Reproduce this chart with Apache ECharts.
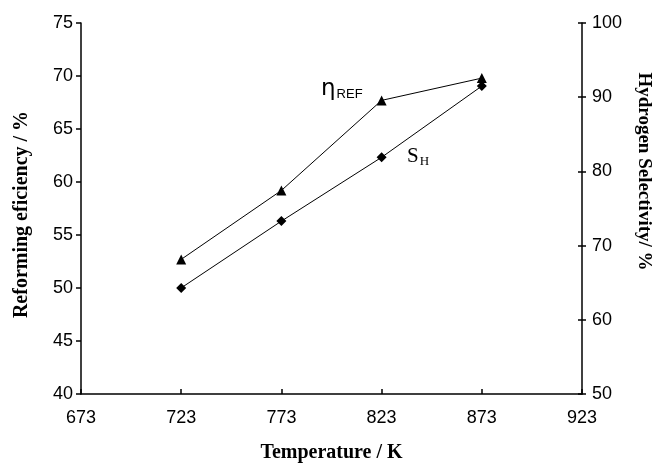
<!DOCTYPE html>
<html>
<head>
<meta charset="utf-8">
<script src="https://cdn.jsdelivr.net/npm/echarts@6/dist/echarts.min.js"></script>
<style>
html,body{margin:0;padding:0;background:#fff;}
#main{width:654px;height:464px;}
</style>
</head>
<body>
<div id="main"></div>
<script>
// 温度 / K
var temps = [723, 773, 823, 873];
// 重整效率 (左轴)
var etaRef = [52.7, 59.2, 67.7, 69.8];
// 氢选择性 (右轴)
var selH = [64.3, 73.3, 81.9, 91.5];

var tickFont = { color: '#000', fontFamily: 'Liberation Sans', fontSize: 18 };

function nameFont(size, pad) {
	return { color: '#000', fontFamily: 'Liberation Serif', fontWeight: 'bold', fontSize: size, padding: pad };
}

function pairs(xs, ys) {
	var out = [];
	for (var i = 0; i < xs.length; i++) {
		out.push([xs[i], ys[i]]);
	}
	return out;
}

var chart = echarts.init(document.getElementById('main'));
var option = {
	animation: false,
	grid: { left: 81, right: 72, top: 23, bottom: 70, outerBoundsMode: 'none' },
	xAxis: {
		type: 'value',
		min: 673, max: 923, interval: 50,
		name: 'Temperature / K',
		nameLocation: 'middle',
		nameGap: 49,
		nameTextStyle: nameFont(20, 0),
		axisLine: { lineStyle: { color: '#000', width: 1.5 } },
		axisTick: { inside: true, length: 5, lineStyle: { color: '#000', width: 1.5 } },
		axisLabel: Object.assign({ margin: 15 }, tickFont),
		splitLine: { show: false }
	},
	yAxis: [{
		type: 'value',
		min: 40, max: 75, interval: 5,
		name: 'Reforming eficiency / %',
		nameLocation: 'middle',
		nameGap: 49,
		nameTextStyle: nameFont(20, [0, 12, 0, 0]),
		axisLine: { show: true, lineStyle: { color: '#000', width: 1.5 } },
		axisTick: { show: true, length: 5, lineStyle: { color: '#000', width: 1.5 } },
		axisLabel: Object.assign({ margin: 8 }, tickFont),
		splitLine: { show: false }
	}, {
		type: 'value',
		position: 'right',
		min: 50, max: 100, interval: 10,
		name: 'Hydrogen Selectivity/ %',
		nameLocation: 'middle',
		nameRotate: -90,
		nameGap: 52,
		nameTextStyle: nameFont(19, [0, 74, 0, 0]),
		axisLine: { show: true, lineStyle: { color: '#000', width: 1.5 } },
		axisTick: { show: true, length: 4, lineStyle: { color: '#000', width: 1.5 } },
		axisLabel: Object.assign({ margin: 10 }, tickFont),
		splitLine: { show: false }
	}, {
		// 右轴刻度向内的一半
		type: 'value',
		position: 'right',
		min: 50, max: 100, interval: 10,
		axisLine: { show: false },
		axisTick: { show: true, inside: true, length: 4, lineStyle: { color: '#000', width: 1.5 } },
		axisLabel: { show: false },
		splitLine: { show: false }
	}],
	series: [{
		name: 'ηREF',
		type: 'line',
		yAxisIndex: 0,
		data: pairs(temps, etaRef),
		symbol: 'triangle',
		symbolSize: 10,
		lineStyle: { color: '#000', width: 1 },
		itemStyle: { color: '#000' }
	}, {
		name: 'SH',
		type: 'line',
		yAxisIndex: 1,
		data: pairs(temps, selH),
		symbol: 'diamond',
		symbolSize: 10,
		lineStyle: { color: '#000', width: 1 },
		itemStyle: { color: '#000' }
	}],
	graphic: [{
		type: 'text',
		left: 321, top: 78,
		style: {
			text: '{a|η}{b|REF}',
			rich: {
				a: { fontFamily: 'DejaVu Sans', fontSize: 23, fill: '#000' },
				b: { fontFamily: 'Liberation Sans', fontSize: 13, fill: '#000', padding: [9, 0, 0, 1] }
			}
		}
	}, {
		type: 'text',
		left: 407, top: 146,
		style: {
			text: '{a|S}{b|H}',
			rich: {
				a: { fontFamily: 'Liberation Serif', fontSize: 21, fill: '#000' },
				b: { fontFamily: 'Liberation Serif', fontSize: 13, fill: '#000', padding: [10, 0, 0, 1] }
			}
		}
	}]
};
chart.setOption(option);
</script>
</body>
</html>
